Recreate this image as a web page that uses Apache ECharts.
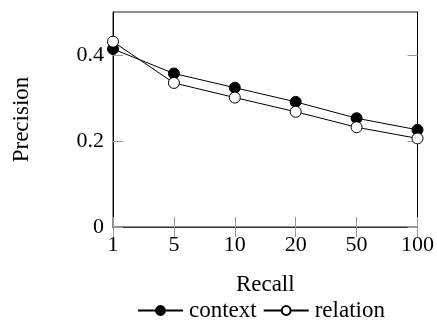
<!DOCTYPE html>
<html>
<head>
<meta charset="utf-8">
<script src="https://cdn.jsdelivr.net/npm/echarts@6/dist/echarts.min.js"></script>
<style>
  html, body { margin: 0; padding: 0; background: #fff; }
  #chart { width: 437px; height: 320px; }
</style>
</head>
<body>
<div id="chart"></div>
<script>
const recallLabels = ["1", "5", "10", "20", "50", "100"];
const contextPrecision = [0.414, 0.357, 0.324, 0.291, 0.253, 0.226];
const relationPrecision = [0.431, 0.335, 0.301, 0.268, 0.232, 0.206];
const yTicks = [0, 0.2, 0.4];

const font = "Liberation Serif";
const tickColor = "#999";

const chart = echarts.init(document.getElementById("chart"), null, { renderer: "canvas" });

const line = (name, data, fill) => ({
  name,
  type: "line",
  data,
  symbol: "circle",
  symbolSize: 11,
  showSymbol: true,
  lineStyle: { color: "#000", width: 1 },
  itemStyle: { color: fill, borderColor: "#000", borderWidth: 1 },
  animation: false,
});

chart.setOption({
  animation: false,
  textStyle: { fontFamily: font, color: "#000" },
  grid: { left: 113, right: 19, top: 12, bottom: 93, show: true, borderColor: "#222", borderWidth: 1 },
  legend: {
    bottom: -2,
    left: 137,
    padding: 0,
    itemGap: 6,
    itemWidth: 45,
    itemHeight: 11,
    textStyle: { fontFamily: font, fontSize: 23, color: "#000", padding: [0, 0, 0, 1] },
    data: ["context", "relation"],
  },
  xAxis: [
    {
      type: "category",
      data: recallLabels,
      boundaryGap: false,
      name: "Recall",
      nameLocation: "middle",
      nameGap: 46,
      nameTextStyle: { fontFamily: font, fontSize: 23, color: "#000" },
      axisLine: { lineStyle: { color: "#000", width: 1 } },
      axisTick: { inside: true, length: 10, lineStyle: { color: tickColor } },
      axisLabel: { fontFamily: font, fontSize: 22, color: "#000", margin: 7 },
      splitLine: { show: false },
    },
    {
      type: "category",
      data: recallLabels,
      boundaryGap: false,
      position: "top",
      axisLine: { lineStyle: { color: "#333", width: 1 } },
      axisTick: { inside: true, length: 10, lineStyle: { color: tickColor } },
      axisLabel: { show: false },
      splitLine: { show: false },
    },
  ],
  yAxis: [
    {
      type: "value",
      min: 0,
      max: 0.5,
      interval: 0.1,
      name: "Precision",
      nameLocation: "middle",
      nameGap: 80,
      nameTextStyle: { fontFamily: font, fontSize: 23, color: "#000" },
      axisLine: { show: true, lineStyle: { color: "#000", width: 1 } },
      axisTick: { show: true, inside: true, length: 10, customValues: yTicks, lineStyle: { color: tickColor } },
      axisLabel: { fontFamily: font, fontSize: 22, color: "#000", margin: 9, customValues: yTicks, formatter: (v) => (v === 0 ? "0" : String(v)) },
      splitLine: { show: false },
    },
    {
      type: "value",
      min: 0,
      max: 0.5,
      interval: 0.1,
      position: "right",
      axisLine: { show: true, lineStyle: { color: "#000", width: 1 } },
      axisTick: { show: true, inside: true, length: 10, customValues: yTicks, lineStyle: { color: tickColor } },
      axisLabel: { show: false },
      splitLine: { show: false },
    },
  ],
  series: [
    line("context", contextPrecision, "#000"),
    line("relation", relationPrecision, "#fff"),
  ],
});
</script>
</body>
</html>
